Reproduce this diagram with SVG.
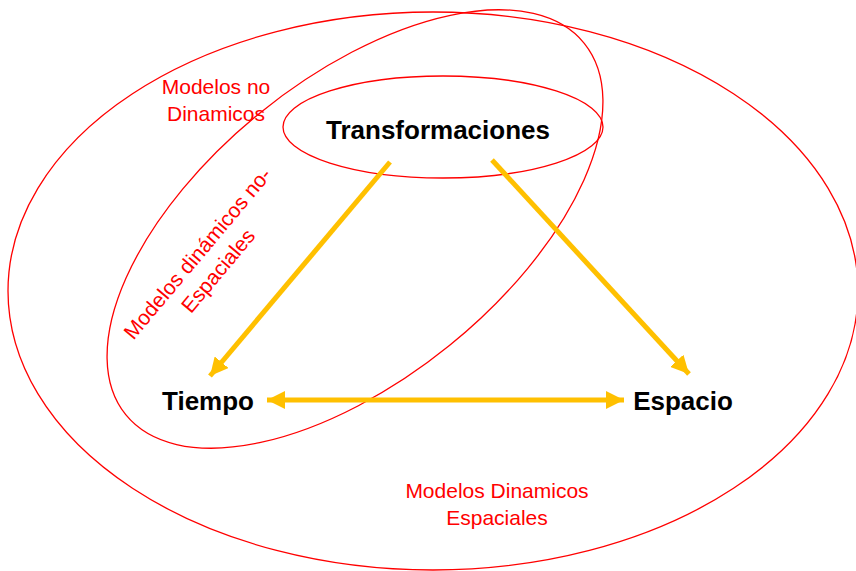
<svg xmlns="http://www.w3.org/2000/svg" width="856" height="571" viewBox="0 0 856 571">
<style>
.set{fill:none;stroke:#FF0000;stroke-width:1.3}
.lbl{font-family:"Liberation Sans",Arial,sans-serif;font-size:21px;fill:#FF0000}
.node{font-family:"Liberation Sans",Arial,sans-serif;font-size:26px;font-weight:bold;fill:#000}
.conn{stroke:#FFC000;stroke-width:5;fill:none}
</style>
<defs>
<marker id="ah" viewBox="0 0 10 10" refX="10" refY="5" markerWidth="18" markerHeight="18" markerUnits="userSpaceOnUse" orient="auto-start-reverse">
<path d="M0,0 L10,5 L0,10 z" fill="#FFC000"/>
</marker>
</defs>
<rect width="856" height="571" fill="#fff"/>
<g id="sets">
<ellipse id="outer" class="set" cx="433" cy="291" rx="425" ry="279"/>
<ellipse id="middle" class="set" cx="355" cy="229" rx="295" ry="150" transform="rotate(-39 355 229)"/>
<ellipse id="inner" class="set" cx="443" cy="127" rx="160" ry="51"/>
</g>
<g id="connectors">
<line class="conn" x1="390" y1="162" x2="210" y2="376" marker-end="url(#ah)"/>
<line class="conn" x1="492" y1="160" x2="689" y2="374" marker-end="url(#ah)"/>
<line class="conn" x1="267" y1="400" x2="624" y2="400" marker-start="url(#ah)" marker-end="url(#ah)"/>
</g>
<g id="n-transformaciones"><text class="node" x="438" y="139" text-anchor="middle">Transformaciones</text></g>
<g id="n-tiempo"><text class="node" x="208" y="410" text-anchor="middle">Tiempo</text></g>
<g id="n-espacio"><text class="node" x="683" y="410" text-anchor="middle">Espacio</text></g>
<g id="l-nodinamicos">
<text class="lbl" x="216" y="94" text-anchor="middle">Modelos no</text>
<text class="lbl" x="216" y="121" text-anchor="middle">Dinamicos</text>
</g>
<g id="l-noespaciales" transform="translate(203 258) rotate(-50)">
<text class="lbl" x="0" y="0" text-anchor="middle">Modelos dinámicos no-</text>
<text class="lbl" x="0" y="27" text-anchor="middle">Espaciales</text>
</g>
<g id="l-espaciales">
<text class="lbl" x="497" y="498" text-anchor="middle">Modelos Dinamicos</text>
<text class="lbl" x="497" y="525" text-anchor="middle">Espaciales</text>
</g>
</svg>
